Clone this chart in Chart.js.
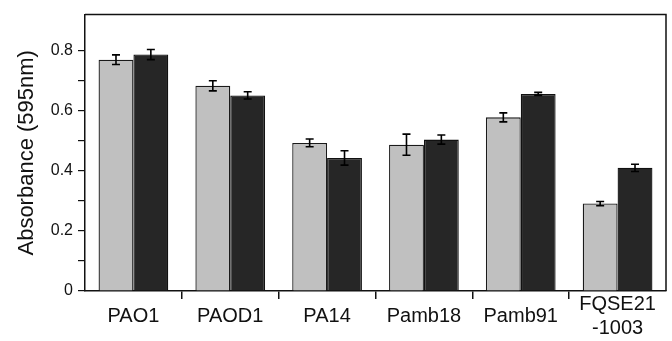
<!DOCTYPE html>
<html>
<head>
<meta charset="utf-8">
<script src="https://cdn.jsdelivr.net/npm/chart.js@4/dist/chart.umd.min.js"></script>
<style>
  html, body { margin: 0; padding: 0; background: #fff; }
  #wrap { width: 672px; height: 341px; position: relative; }
</style>
</head>
<body>
<div id="wrap"><canvas id="grafico"></canvas></div>
<script>
// Datos
const categorias = ['PAO1', 'PAOD1', 'PA14', 'Pamb18', 'Pamb91', ['FQSE21', '-1003']];
const serieClara = [0.770, 0.683, 0.493, 0.487, 0.578, 0.291];
const errorClara = [0.016, 0.017, 0.013, 0.035, 0.015, 0.007];
const serieOscura = [0.787, 0.651, 0.443, 0.504, 0.656, 0.410];
const errorOscura = [0.017, 0.012, 0.024, 0.015, 0.005, 0.012];
const yTicks = [0, 0.1, 0.2, 0.3, 0.4, 0.5, 0.6, 0.7, 0.8];
const yTickLabels = ['0', '', '0.2', '', '0.4', '', '0.6', '', '0.8'];

const fuente = "'Liberation Sans', Arial, Helvetica, sans-serif";
const errores = [errorClara, errorOscura];

// Barras de error y marco superior/derecho
const pluginExtras = {
    id: 'extras',
    afterDatasetsDraw(chart) {
        const ctx = chart.ctx;
        const y = chart.scales.y;
        ctx.save();
        ctx.strokeStyle = '#000';
        ctx.lineWidth = 1.6;
        chart.data.datasets.forEach((ds, di) => {
            const meta = chart.getDatasetMeta(di);
            meta.data.forEach((bar, i) => {
                const v = ds.data[i];
                const e = errores[di][i];
                const yAlto = y.getPixelForValue(v + e);
                const yBajo = y.getPixelForValue(v - e);
                const cap = 4;
                ctx.beginPath();
                ctx.moveTo(bar.x, yAlto);
                ctx.lineTo(bar.x, yBajo);
                ctx.moveTo(bar.x - cap, yAlto);
                ctx.lineTo(bar.x + cap, yAlto);
                ctx.moveTo(bar.x - cap, yBajo);
                ctx.lineTo(bar.x + cap, yBajo);
                ctx.stroke();
            });
        });
        const a = chart.chartArea;
        ctx.strokeStyle = '#111';
        ctx.lineWidth = 1.5;
        ctx.beginPath();
        ctx.moveTo(a.left, a.top);
        ctx.lineTo(a.right, a.top);
        ctx.lineTo(a.right, a.bottom);
        ctx.stroke();
        ctx.restore();
    }
};

new Chart(document.getElementById('grafico'), {
    type: 'bar',
    data: {
        labels: categorias,
        datasets: [
            {
                label: 'clara',
                data: serieClara,
                backgroundColor: '#c0c0c0',
                borderColor: '#1a1a1a',
                borderWidth: 1.3
            },
            {
                label: 'oscura',
                data: serieOscura,
                backgroundColor: '#262626',
                borderColor: '#111',
                borderWidth: 1.3
            }
        ]
    },
    options: {
        responsive: true,
        maintainAspectRatio: false,
        animation: false,
        layout: { padding: { top: 10, right: 6, left: 0, bottom: 0 } },
        datasets: {
            bar: { categoryPercentage: 0.72, barPercentage: 1.0 }
        },
        plugins: {
            legend: { display: false },
            tooltip: { enabled: false }
        },
        scales: {
            x: {
                offset: true,
                border: { display: true, color: '#111', width: 1.5 },
                grid: {
                    display: true,
                    offset: true,
                    drawOnChartArea: false,
                    drawTicks: true,
                    tickLength: 8,
                    lineWidth: 1.5,
                    tickColor: c => (c.type === 'tick' && c.index > 0) ? '#111' : 'rgba(0,0,0,0)'
                },
                ticks: {
                    color: '#111',
                    padding: 5,
                    maxRotation: 0,
                    autoSkip: false,
                    crossAlign: 'center',
                    font: { family: fuente, size: 20, lineHeight: 1.2 }
                },
                afterFit(scale) { scale.height = 50; }
            },
            y: {
                min: 0,
                max: 0.92,
                border: { display: true, color: '#111', width: 1.5 },
                afterBuildTicks(scale) {
                    scale.ticks = yTicks.map(v => ({ value: v }));
                },
                grid: {
                    display: true,
                    drawOnChartArea: false,
                    drawTicks: true,
                    tickLength: 7,
                    lineWidth: 1.2,
                    tickColor: '#111'
                },
                ticks: {
                    color: '#111',
                    padding: 5,
                    font: { family: fuente, size: 16 },
                    callback: (value, index) => yTickLabels[index]
                },
                title: {
                    display: true,
                    text: 'Absorbance (595nm)',
                    color: '#111',
                    padding: { top: 14, bottom: 0 },
                    font: { family: fuente, size: 22 }
                },
                afterFit(scale) { scale.width = 85; }
            }
        }
    },
    plugins: [pluginExtras]
});
</script>
</body>
</html>
